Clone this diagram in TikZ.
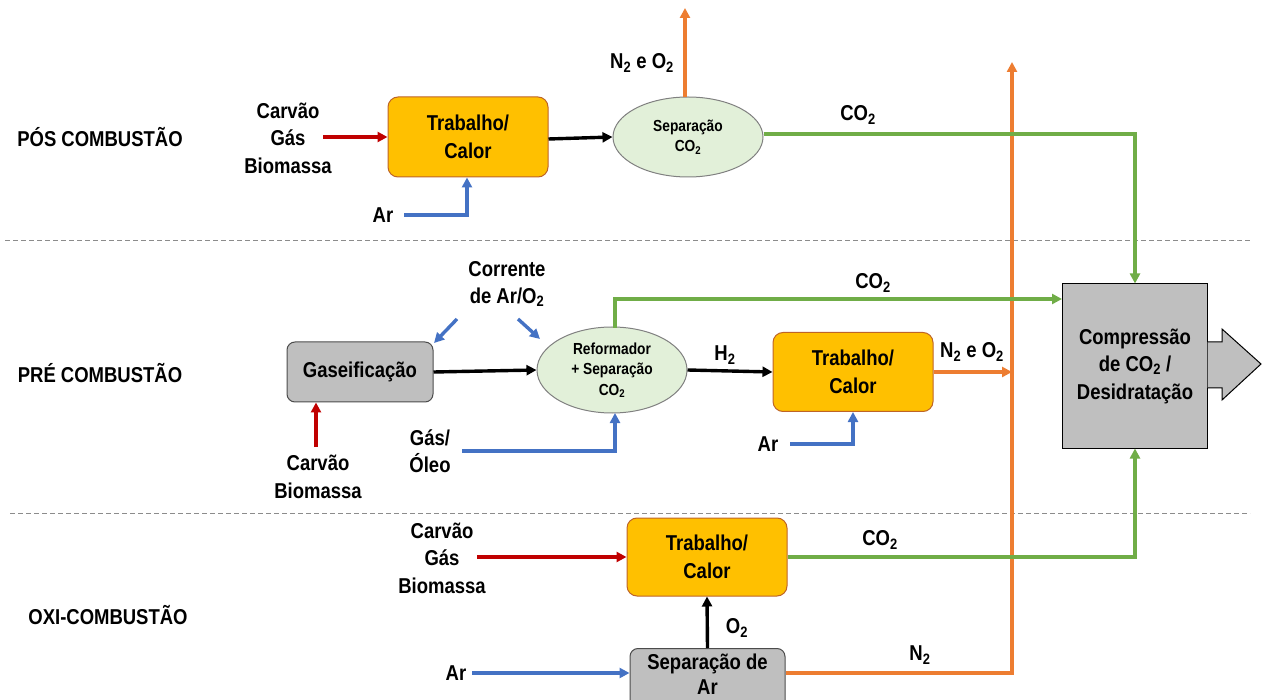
\documentclass[tikz,border=0pt]{standalone}
\usepackage{fontspec}
\setmainfont{Liberation Sans}[FakeStretch=0.86]
\usetikzlibrary{arrows.meta,shapes.geometric}
\definecolor{cred}{HTML}{C00000}
\definecolor{cblue}{HTML}{4472C4}
\definecolor{cgreen}{HTML}{70AD47}
\definecolor{corange}{HTML}{ED7D31}
\definecolor{cyellow}{HTML}{FFC000}
\definecolor{cgray}{HTML}{BFBFBF}
\definecolor{clgreen}{HTML}{E2F0D9}
\tikzset{
  lbl/.style={font=\fontsize{21.5}{27.5}\selectfont\bfseries, align=center, inner sep=0pt},
  hot/.style={draw=corange!80!black, fill=cyellow, rounded corners=10pt, minimum width=160pt, minimum height=80pt, line width=1pt, lbl},
  grey/.style={draw=black!70, fill=cgray, rounded corners=8pt, line width=1pt, lbl},
  sep/.style={ellipse, draw=black!50, fill=clgreen, line width=1pt, font=\fontsize{16}{20.5}\selectfont\bfseries, align=center, inner sep=0pt},
  tip/.style={-{Triangle[length=10pt,width=10pt]}},
  flow/.style={line width=3.4pt},
  divider/.style={draw=black!45, line width=0.8pt, dash pattern=on 5pt off 3pt},
}
\newcommand{\sub}[1]{\textsubscript{#1}}
\begin{document}
\begin{tikzpicture}[x=1pt,y=-1pt]
\useasboundingbox (0,0) rectangle (1269,700);
% dividers
\draw[divider] (5,240) -- (1250,240);
\draw[divider] (10,513) -- (1250,513);
% section titles
\node[lbl] (tpos) at (100,137) {PÓS COMBUSTÃO};
\node[lbl] (tpre) at (100,373) {PRÉ COMBUSTÃO};
\node[lbl] (toxi) at (108,615) {OXI-COMBUSTÃO};

% ---------- POS ----------
\node[hot] (b1) at (468,137) {Trabalho/\\Calor};
\node[lbl] (in1) at (288,138) {Carvão\\Gás\\Biomassa};
\node[lbl] (ar1) at (383,215) {Ar};
\node[sep, minimum width=150pt, minimum height=80pt] (s1) at (688,137) {Separação\\CO\sub{2}};
\coordinate (s1top) at (685,8);
\node[lbl] (n2o2a) at (642,63) {N\sub{2} e O\sub{2}};
\node[lbl] (co2a) at (858,115) {CO\sub{2}};

\draw[flow, cred, tip] (323,137) -- (b1.west |- 0,137);
\draw[flow, cblue, tip] (404,215) -- (467,215) -- (467,177.5);
\draw[flow, black, tip] (b1.east) ++(0,2) -- (s1.west);
\draw[flow, corange, tip] (685,97.5) -- (s1top);

% ---------- PRE ----------
\node[grey, minimum width=146pt, minimum height=60pt] (gas) at (360,372) {Gaseificação};
\node[lbl] (cor) at (507,284) {Corrente\\de Ar/O\sub{2}};
\node[sep, minimum width=150pt, minimum height=86pt] (s2) at (612,370) {Reformador\\+ Separação\\CO\sub{2}};
\node[lbl] (cb2) at (318,477) {Carvão\\Biomassa};
\node[lbl] (go) at (430,451) {Gás/\\Óleo};
\node[hot, minimum height=79pt] (b2) at (853,372) {Trabalho/\\Calor};
\node[lbl] (h2) at (725,355) {H\sub{2}};
\node[lbl] (ar2) at (768,444) {Ar};
\node[lbl] (n2o2b) at (972,352) {N\sub{2} e O\sub{2}};
\node[lbl] (co2b) at (873,283) {CO\sub{2}};

\draw[flow, cblue, tip] (457,319) -- (434,343);
\draw[flow, cblue, tip] (518,319) -- (540,339);
\draw[flow, black, tip] (gas.east) -- (s2.west);
\draw[flow, cred, tip] (316,447) -- (gas.south -| 316,0);
\draw[flow, cblue, tip] (462,451) -- (615,451) -- (615,413);
\draw[flow, black, tip] (s2.east) -- (b2.west);
\draw[flow, cblue, tip] (790,444) -- (853,444) -- (b2.south);

% ---------- Compression ----------
\node[draw=black, fill=cgray, line width=1pt, minimum width=145pt, minimum height=164pt, lbl] (comp) at (1135,366) {Compressão\\de CO\sub{2} /\\Desidratação};
\draw[draw=black, fill=cgray, line width=1pt] (1207.5,342) -- (1222,342) -- (1222,329) -- (1261,364) -- (1222,400) -- (1222,388) -- (1207.5,388);

% ---------- OXI ----------
\node[hot, minimum height=78pt] (b3) at (707,557) {Trabalho/\\Calor};
\node[lbl] (in3) at (442,558) {Carvão\\Gás\\Biomassa};
\node[grey, minimum width=155pt, minimum height=60pt, anchor=north] (asu) at (707.5,648) {};
\node[lbl, font=\fontsize{21.5}{25}\selectfont\bfseries] (asut) at (707.5,674) {Separação de\\Ar};
\node[lbl] (ar3) at (456,673) {Ar};
\node[lbl] (o2) at (737,628) {O\sub{2}};
\node[lbl] (co2c) at (880,540) {CO\sub{2}};
\node[lbl] (n2) at (920,655) {N\sub{2}};
\coordinate (otop) at (1012,62);
\coordinate (ojoin) at (1012,372);

\draw[flow, cred, tip] (477,557) -- (b3.west);
\draw[flow, cblue, tip] (472,673) -- (asu.west |- 0,673);
\draw[flow, black, tip] (asu.north) -- (b3.south);

% orange N2 line
\draw[flow, corange, tip] (asu.east |- 0,673) -- (1012,673) -- (otop);
\draw[flow, corange, tip] (b2.east) -- (ojoin);

% green CO2 lines
\draw[flow, cgreen, tip] (s1.east) ++(0,-3) -- (comp.north |- 0,134) -- (comp.north);
\draw[flow, cgreen, tip] (615,328) -- (615,299) -- (comp.west |- 0,299);
\draw[flow, cgreen, tip] (b3.east) -- (comp.south |- 0,557) -- (comp.south);
\end{tikzpicture}
\end{document}
